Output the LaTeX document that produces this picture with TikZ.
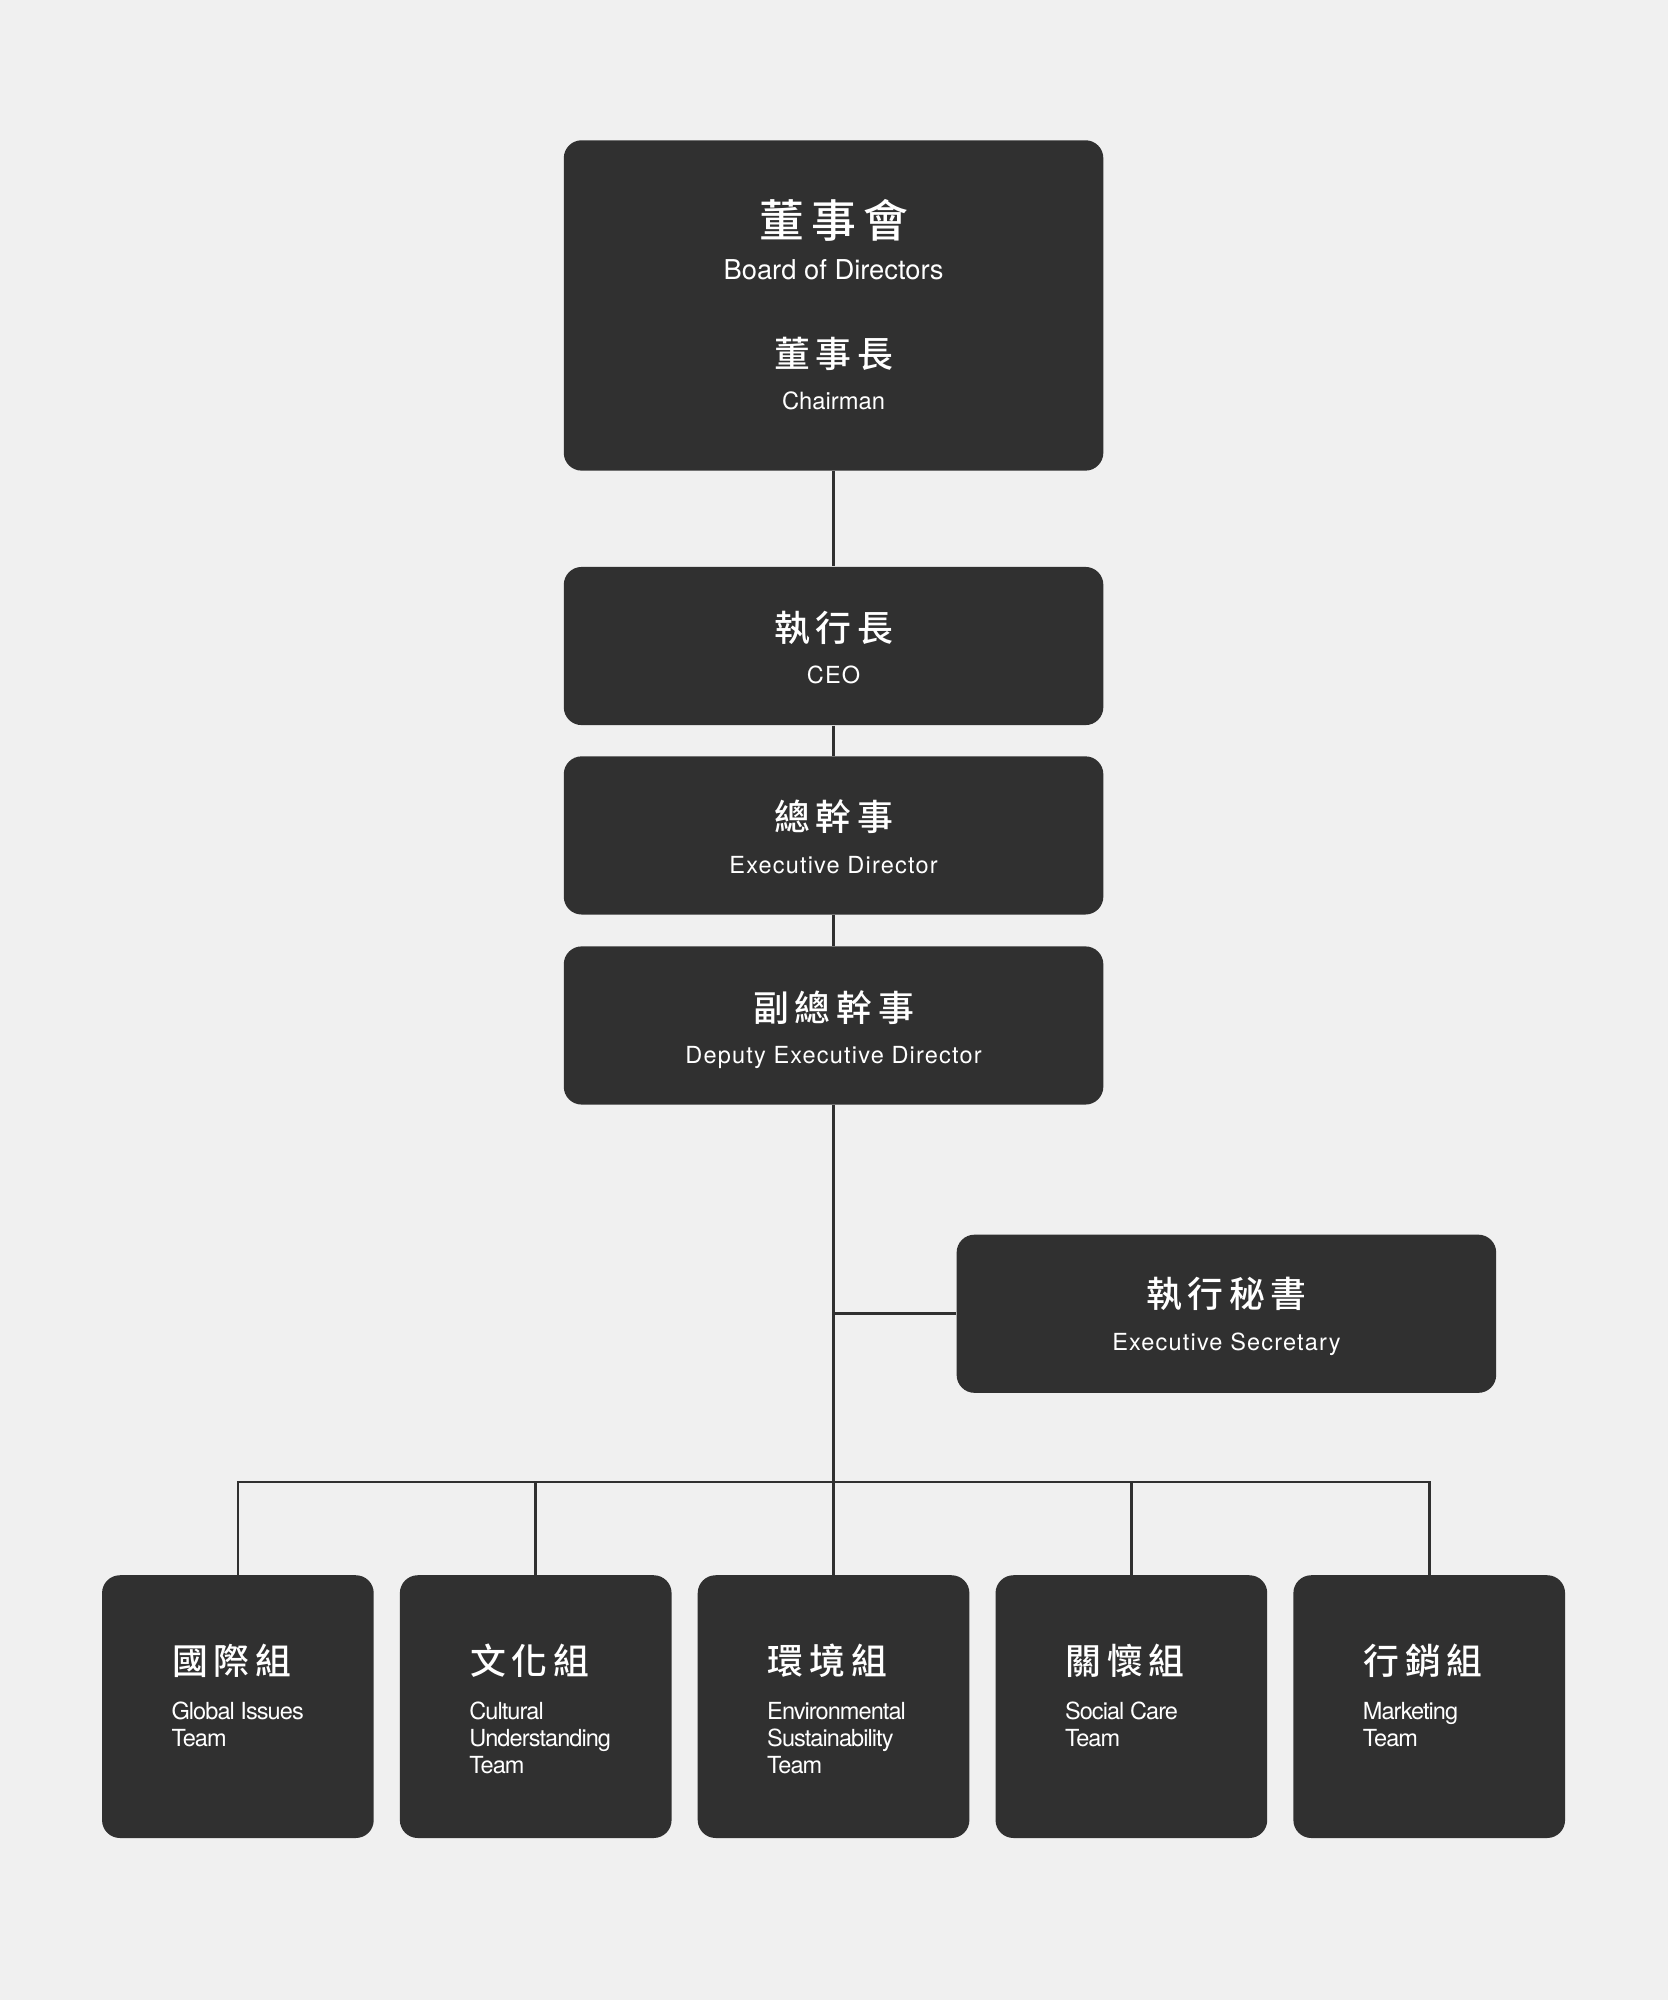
\documentclass[tikz,border=0pt]{standalone}
\usepackage{fontspec}
\setmainfont{TeX Gyre Heros}
\newfontfamily\zhfont[LetterSpace=16, BoldFont={* Medium}]{Noto Sans CJK TC}
\newfontfamily\enwide[LetterSpace=5]{TeX Gyre Heros}
\newfontfamily\entight[LetterSpace=-4]{TeX Gyre Heros}
\usetikzlibrary{positioning,calc}

\definecolor{bggray}{HTML}{F0F0F0}
\definecolor{boxgray}{HTML}{303030}

% team names: first line sits on the node's base
\newcommand{\teamtext}[1]{\begin{tabular}[t]{@{}l@{}}#1\end{tabular}}

\tikzset{
    post/.style={rectangle, rounded corners=0.28cm, fill=boxgray, minimum width=8.46cm, minimum height=2.48cm, inner sep=0pt},
    team/.style={post, minimum width=4.26cm, minimum height=4.12cm},
    link/.style={draw=boxgray, line width=1.2pt},
    zhbig/.style={text=white, font=\zhfont\bfseries\fontsize{20}{24}\selectfont, anchor=base, inner sep=0pt},
    zhname/.style={text=white, font=\zhfont\bfseries\fontsize{16}{19}\selectfont, anchor=base, inner sep=0pt},
    enname/.style={text=white, font=\enwide\fontsize{10.5}{12}\selectfont, anchor=base, inner sep=0pt},
    enteam/.style={text=white, font=\entight\fontsize{10.5}{12}\selectfont, anchor=base west, inner sep=0pt}
}

\begin{document}
\begin{tikzpicture}
    \fill[bggray] (0,0) rectangle (26.16,31.36);
    \useasboundingbox (0,0) rectangle (26.16,31.36);

    % Board and chairman
    \node[post, minimum height=5.18cm] (board) at (13.07,26.57) {};
    \node[zhbig] (board-zh) at ($(board)+(0,1.07)$) {董事會};
    \node[enname, font=\fontsize{12.2}{14}\selectfont] (board-en) at ($(board)+(0,0.41)$) {Board of Directors};
    \node[zhname] (chair-zh) at ($(board)+(0,-0.97)$) {董事長};
    \node[enname, font=\fontsize{10.6}{12}\selectfont] (chair-en) at ($(board)+(0,-1.63)$) {Chairman};

    % Executive chain
    \node[post] (ceo) at (13.07,21.23) {};
    \node[zhname] (ceo-zh) at ($(ceo)+(0,0.07)$) {執行長};
    \node[enname] (ceo-en) at ($(ceo)+(0,-0.58)$) {CEO};

    \node[post] (ed) at (13.07,18.26) {};
    \node[zhname] (ed-zh) at ($(ed)+(0,0.07)$) {總幹事};
    \node[enname] (ed-en) at ($(ed)+(0,-0.6)$) {Executive Director};

    \node[post] (deputy) at (13.07,15.28) {};
    \node[zhname] (deputy-zh) at ($(deputy)+(0,0.07)$) {副總幹事};
    \node[enname] (deputy-en) at ($(deputy)+(0,-0.59)$) {Deputy Executive Director};

    \node[post] (secretary) at (19.23,10.76) {};
    \node[zhname] (secretary-zh) at ($(secretary)+(0,0.1)$) {執行秘書};
    \node[enname] (secretary-en) at ($(secretary)+(0,-0.58)$) {Executive Secretary};

    % Teams
    \foreach \id/\x/\zhtext/\entext in {global/3.73/國際組/{Global Issues\\Team},
        culture/8.40/文化組/{Cultural\\Understanding\\Team},
        env/13.07/環境組/{Environmental\\Sustainability\\Team},
        social/17.74/關懷組/{Social Care\\Team},
        market/22.41/行銷組/{Marketing\\Team}} {
        \node[team] (\id) at (\x,4.6) {};
        \node[zhname, anchor=base west] (\id-zh) at ($(\id.north west)+(1.1,-1.57)$) {\zhtext};
        \node[enteam] (\id-en) at ($(\id.north west)+(1.09,-2.27)$) {\teamtext{\entext}};
    }

    % Connections
    \coordinate (bus) at (13.07,8.12);
    \draw[link] (board) -- (ceo);
    \draw[link] (ceo) -- (ed);
    \draw[link] (ed) -- (deputy);
    \draw[link] (deputy) -- (env);
    \draw[link] (secretary.west) -- (secretary.west -| deputy.south);
    \draw[link] (global.north) |- (bus) -| (market.north);
    \draw[link] (culture.north) -- (culture.north |- bus);
    \draw[link] (social.north) -- (social.north |- bus);
\end{tikzpicture}
\end{document}
